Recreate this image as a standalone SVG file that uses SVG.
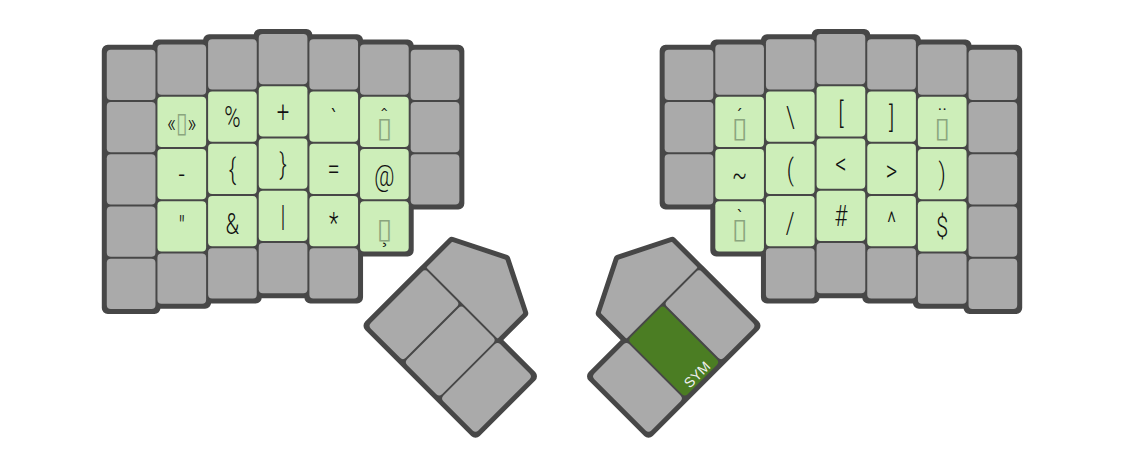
<svg xmlns="http://www.w3.org/2000/svg" width="1124" height="470" viewBox="0 0 1124 470">
<style>
.o{fill:#474747;stroke:#474747;stroke-width:8;stroke-linejoin:round}
.k{fill:#aaaaaa}
.g{fill:#cdeeb9}
.s{fill:#4b7d23}
.t{font-family:Roboto,"Open Sans","Liberation Sans",sans-serif;font-weight:300;font-size:29.5px;fill:#111;text-anchor:middle}
.sm{font-size:26px}
.mk{font-size:22px}
.tf{font-family:"DejaVu Sans",sans-serif;font-weight:normal;font-size:28px;fill:#8aa57e}
.lab{font-family:"Liberation Sans",Arial,sans-serif;font-size:14px;fill:#f0f0f0;text-anchor:middle;dominant-baseline:central}
</style>
<rect width="1124" height="470" fill="#ffffff"/>
<g id="outlines">
  <rect class="o" x="105.8" y="48.7" width="50.65" height="261.25" rx="2"/>
  <rect class="o" x="156.45" y="43.5" width="50.65" height="261.25" rx="2"/>
  <rect class="o" x="207.1" y="38.3" width="50.65" height="261.25" rx="2"/>
  <rect class="o" x="257.75" y="33.1" width="50.65" height="261.25" rx="2"/>
  <rect class="o" x="308.4" y="38.3" width="50.65" height="261.25" rx="2"/>
  <rect class="o" x="359.05" y="43.5" width="50.65" height="209" rx="2"/>
  <rect class="o" x="409.7" y="48.7" width="50.65" height="156.75" rx="2"/>
  <rect class="o" x="663.65" y="48.7" width="50.65" height="156.75" rx="2"/>
  <rect class="o" x="714.3" y="43.5" width="50.65" height="209" rx="2"/>
  <rect class="o" x="764.95" y="38.3" width="50.65" height="261.25" rx="2"/>
  <rect class="o" x="815.6" y="33.1" width="50.65" height="261.25" rx="2"/>
  <rect class="o" x="866.25" y="38.3" width="50.65" height="261.25" rx="2"/>
  <rect class="o" x="916.9" y="43.5" width="50.65" height="261.25" rx="2"/>
  <rect class="o" x="967.55" y="48.7" width="50.65" height="261.25" rx="2"/>
  <g transform="translate(425,267.5) rotate(45)">
    <rect class="o" x="0" y="0" width="153.9" height="82.5" rx="2"/>
    <polygon class="o" points="0,0 102.6,0 102.6,-37.8 51.3,-63.5 0,-37.8"/>
  </g>
  <g transform="translate(699,267.5) scale(-1,1) rotate(45)">
    <rect class="o" x="0" y="0" width="153.9" height="82.5" rx="2"/>
    <polygon class="o" points="0,0 102.6,0 102.6,-37.8 51.3,-63.5 0,-37.8"/>
  </g>
</g>
<g id="left-half">
  <g id="L-c0">
    <rect class="k" x="106.8" y="49.7" width="48.65" height="50.25" rx="4"/>
    <rect class="k" x="106.8" y="101.95" width="48.65" height="50.25" rx="4"/>
    <rect class="k" x="106.8" y="154.2" width="48.65" height="50.25" rx="4"/>
    <rect class="k" x="106.8" y="206.45" width="48.65" height="50.25" rx="4"/>
    <rect class="k" x="106.8" y="258.7" width="48.65" height="50.25" rx="4"/>
  </g>
  <g id="L-c1">
    <rect class="k" x="157.45" y="44.5" width="48.65" height="50.25" rx="4"/>
    <g id="key-guillemets"><rect class="g" x="157.45" y="96.75" width="48.65" height="50.25" rx="4"/>
      <text class="t sm" transform="translate(181.75,131.5) scale(0.75,1)">«<tspan class="tf">▯</tspan>»</text></g>
    <g id="key-minus"><rect class="g" x="157.45" y="149" width="48.65" height="50.25" rx="4"/>
      <text class="t" transform="translate(181.75,184.6) scale(0.75,1)">-</text></g>
    <g id="key-dquote"><rect class="g" x="157.45" y="201.25" width="48.65" height="50.25" rx="4"/>
      <text class="t" transform="translate(181.75,236.85) scale(0.75,1)">"</text></g>
    <rect class="k" x="157.45" y="253.5" width="48.65" height="50.25" rx="4"/>
  </g>
  <g id="L-c2">
    <rect class="k" x="208.1" y="39.3" width="48.65" height="50.25" rx="4"/>
    <g id="key-percent"><rect class="g" x="208.1" y="91.55" width="48.65" height="50.25" rx="4"/>
      <text class="t" transform="translate(232.4,127.15) scale(0.75,1)">%</text></g>
    <g id="key-lbrace"><rect class="g" x="208.1" y="143.8" width="48.65" height="50.25" rx="4"/>
      <text class="t" transform="translate(232.4,179.4) scale(0.75,1)">{</text></g>
    <g id="key-amp"><rect class="g" x="208.1" y="196.05" width="48.65" height="50.25" rx="4"/>
      <text class="t" transform="translate(232.4,233.65) scale(0.75,1)">&amp;</text></g>
    <rect class="k" x="208.1" y="248.3" width="48.65" height="50.25" rx="4"/>
  </g>
  <g id="L-c3">
    <rect class="k" x="258.75" y="34.1" width="48.65" height="50.25" rx="4"/>
    <g id="key-plus"><rect class="g" x="258.75" y="86.35" width="48.65" height="50.25" rx="4"/>
      <text class="t" transform="translate(283.05,121.95) scale(0.75,1)">+</text></g>
    <g id="key-rbrace"><rect class="g" x="258.75" y="138.6" width="48.65" height="50.25" rx="4"/>
      <text class="t" transform="translate(283.05,174.2) scale(0.75,1)">}</text></g>
    <g id="key-pipe"><rect class="g" x="258.75" y="190.85" width="48.65" height="50.25" rx="4"/>
      <text class="t" transform="translate(283.05,226.45) scale(0.75,1)">|</text></g>
    <rect class="k" x="258.75" y="243.1" width="48.65" height="50.25" rx="4"/>
  </g>
  <g id="L-c4">
    <rect class="k" x="309.4" y="39.3" width="48.65" height="50.25" rx="4"/>
    <g id="key-backtick"><rect class="g" x="309.4" y="91.55" width="48.65" height="50.25" rx="4"/>
      <text class="t" transform="translate(333.7,130.15) scale(0.75,1)">`</text></g>
    <g id="key-equal"><rect class="g" x="309.4" y="143.8" width="48.65" height="50.25" rx="4"/>
      <text class="t" transform="translate(333.7,179.4) scale(0.75,1)">=</text></g>
    <g id="key-star"><rect class="g" x="309.4" y="196.05" width="48.65" height="50.25" rx="4"/>
      <text class="t" transform="translate(333.7,232.65) scale(0.75,1)">*</text></g>
    <rect class="k" x="309.4" y="248.3" width="48.65" height="50.25" rx="4"/>
  </g>
  <g id="L-c5">
    <rect class="k" x="360.05" y="44.5" width="48.65" height="50.25" rx="4"/>
    <g id="key-circ"><rect class="g" x="360.05" y="96.75" width="48.65" height="50.25" rx="4"/>
      <text class="t"><tspan class="tf" x="384.35" y="137">▯</tspan><tspan class="mk" x="384.35" y="124.5">ˆ</tspan></text></g>
    <g id="key-at"><rect class="g" x="360.05" y="149" width="48.65" height="50.25" rx="4"/>
      <text class="t" transform="translate(384.35,186.1) scale(0.75,1)">@</text></g>
    <g id="key-cedilla"><rect class="g" x="360.05" y="201.25" width="48.65" height="50.25" rx="4"/>
      <text class="t"><tspan class="tf" x="384.35" y="238">▯</tspan><tspan class="mk" x="384.35" y="241.5">¸</tspan></text></g>
  </g>
  <g id="L-c6">
    <rect class="k" x="410.7" y="49.7" width="48.65" height="50.25" rx="4"/>
    <rect class="k" x="410.7" y="101.95" width="48.65" height="50.25" rx="4"/>
    <rect class="k" x="410.7" y="154.2" width="48.65" height="50.25" rx="4"/>
  </g>
</g>
<g id="right-half">
  <g id="R-c0">
    <rect class="k" x="664.65" y="49.7" width="48.65" height="50.25" rx="4"/>
    <rect class="k" x="664.65" y="101.95" width="48.65" height="50.25" rx="4"/>
    <rect class="k" x="664.65" y="154.2" width="48.65" height="50.25" rx="4"/>
  </g>
  <g id="R-c1">
    <rect class="k" x="715.3" y="44.5" width="48.65" height="50.25" rx="4"/>
    <g id="key-acute"><rect class="g" x="715.3" y="96.75" width="48.65" height="50.25" rx="4"/>
      <text class="t"><tspan class="tf" x="739.6" y="137">▯</tspan><tspan class="mk" x="739.6" y="124.5">´</tspan></text></g>
    <g id="key-tilde"><rect class="g" x="715.3" y="149" width="48.65" height="50.25" rx="4"/>
      <text class="t" transform="translate(739.6,184.6) scale(0.75,1)">~</text></g>
    <g id="key-grave"><rect class="g" x="715.3" y="201.25" width="48.65" height="50.25" rx="4"/>
      <text class="t"><tspan class="tf" x="739.6" y="238">▯</tspan><tspan class="mk" x="739.6" y="226">`</tspan></text></g>
  </g>
  <g id="R-c2">
    <rect class="k" x="765.95" y="39.3" width="48.65" height="50.25" rx="4"/>
    <g id="key-backslash"><rect class="g" x="765.95" y="91.55" width="48.65" height="50.25" rx="4"/>
      <text class="t" transform="translate(790.25,127.15) scale(0.75,1)">\</text></g>
    <g id="key-lparen"><rect class="g" x="765.95" y="143.8" width="48.65" height="50.25" rx="4"/>
      <text class="t" transform="translate(790.25,179.9) scale(0.75,1)">(</text></g>
    <g id="key-slash"><rect class="g" x="765.95" y="196.05" width="48.65" height="50.25" rx="4"/>
      <text class="t" transform="translate(790.25,232.65) scale(0.75,1)">/</text></g>
    <rect class="k" x="765.95" y="248.3" width="48.65" height="50.25" rx="4"/>
  </g>
  <g id="R-c3">
    <rect class="k" x="816.6" y="34.1" width="48.65" height="50.25" rx="4"/>
    <g id="key-lbracket"><rect class="g" x="816.6" y="86.35" width="48.65" height="50.25" rx="4"/>
      <text class="t" transform="translate(840.9,122.95) scale(0.75,1)">[</text></g>
    <g id="key-lt"><rect class="g" x="816.6" y="138.6" width="48.65" height="50.25" rx="4"/>
      <text class="t" transform="translate(840.9,174.2) scale(0.75,1)">&lt;</text></g>
    <g id="key-hash"><rect class="g" x="816.6" y="190.85" width="48.65" height="50.25" rx="4"/>
      <text class="t" transform="translate(840.9,226.45) scale(0.75,1)">#</text></g>
    <rect class="k" x="816.6" y="243.1" width="48.65" height="50.25" rx="4"/>
  </g>
  <g id="R-c4">
    <rect class="k" x="867.25" y="39.3" width="48.65" height="50.25" rx="4"/>
    <g id="key-rbracket"><rect class="g" x="867.25" y="91.55" width="48.65" height="50.25" rx="4"/>
      <text class="t" transform="translate(891.55,127.15) scale(0.75,1)">]</text></g>
    <g id="key-gt"><rect class="g" x="867.25" y="143.8" width="48.65" height="50.25" rx="4"/>
      <text class="t" transform="translate(891.55,181.4) scale(0.75,1)">&gt;</text></g>
    <g id="key-caret"><rect class="g" x="867.25" y="196.05" width="48.65" height="50.25" rx="4"/>
      <text class="t" transform="translate(891.55,232.65) scale(0.75,1)">^</text></g>
    <rect class="k" x="867.25" y="248.3" width="48.65" height="50.25" rx="4"/>
  </g>
  <g id="R-c5">
    <rect class="k" x="917.9" y="44.5" width="48.65" height="50.25" rx="4"/>
    <g id="key-diaeresis"><rect class="g" x="917.9" y="96.75" width="48.65" height="50.25" rx="4"/>
      <text class="t"><tspan class="tf" x="942.2" y="137">▯</tspan><tspan class="mk" x="942.2" y="124">¨</tspan></text></g>
    <g id="key-rparen"><rect class="g" x="917.9" y="149" width="48.65" height="50.25" rx="4"/>
      <text class="t" transform="translate(942.2,184.1) scale(0.75,1)">)</text></g>
    <g id="key-dollar"><rect class="g" x="917.9" y="201.25" width="48.65" height="50.25" rx="4"/>
      <text class="t" transform="translate(942.2,236.85) scale(0.75,1)">$</text></g>
    <rect class="k" x="917.9" y="253.5" width="48.65" height="50.25" rx="4"/>
  </g>
  <g id="R-c6">
    <rect class="k" x="968.55" y="49.7" width="48.65" height="50.25" rx="4"/>
    <rect class="k" x="968.55" y="101.95" width="48.65" height="50.25" rx="4"/>
    <rect class="k" x="968.55" y="154.2" width="48.65" height="50.25" rx="4"/>
    <rect class="k" x="968.55" y="206.45" width="48.65" height="50.25" rx="4"/>
    <rect class="k" x="968.55" y="258.7" width="48.65" height="50.25" rx="4"/>
  </g>
</g>
<g id="left-thumb" transform="translate(425,267.5) rotate(45)">
  <polygon class="k" stroke="#aaaaaa" stroke-width="2" stroke-linejoin="round" points="2,-2 100.6,-2 100.6,-36.7 51.3,-61.3 2,-36.7"/>
  <rect class="k" x="1" y="1" width="49.3" height="80.5" rx="4"/>
  <rect class="k" x="52.3" y="1" width="49.3" height="80.5" rx="4"/>
  <rect class="k" x="103.6" y="1" width="49.3" height="80.5" rx="4"/>
</g>
<g id="right-thumb" transform="translate(699,267.5) scale(-1,1) rotate(45)">
  <polygon class="k" stroke="#aaaaaa" stroke-width="2" stroke-linejoin="round" points="2,-2 100.6,-2 100.6,-36.7 51.3,-61.3 2,-36.7"/>
  <rect class="k" x="1" y="1" width="49.3" height="80.5" rx="4"/>
  <rect id="key-sym" class="s" x="52.3" y="1" width="49.3" height="80.5" rx="4"/>
  <rect class="k" x="103.6" y="1" width="49.3" height="80.5" rx="4"/>
</g>
<text id="sym-label" class="lab" transform="translate(697,374.5) rotate(-45)">SYM</text>
</svg>
